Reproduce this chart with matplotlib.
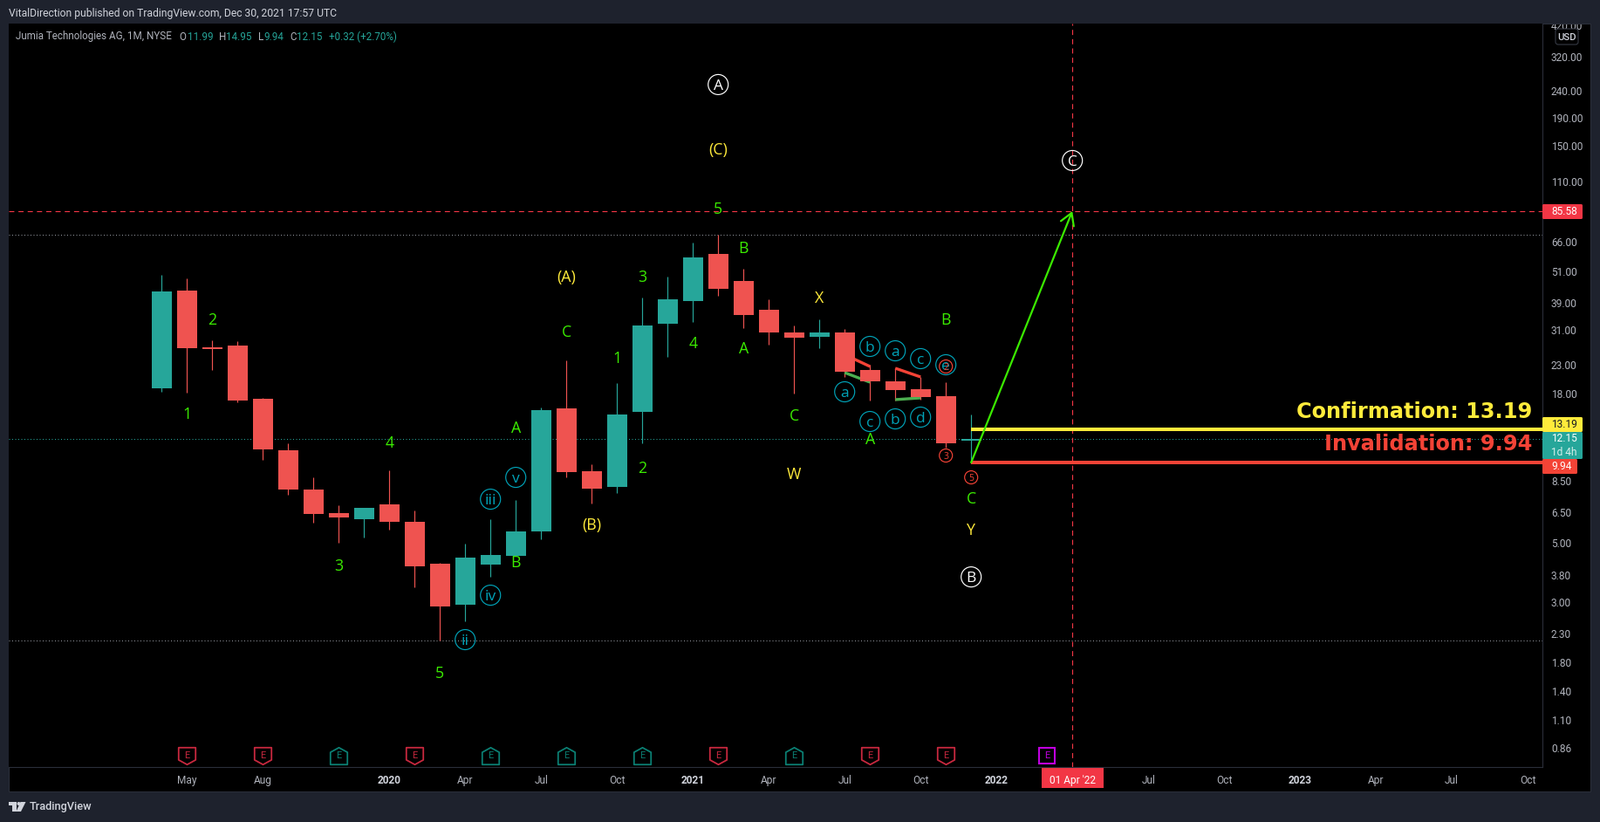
import matplotlib
matplotlib.use('Agg')
import matplotlib.pyplot as plt
import numpy as np
from matplotlib.patches import Rectangle, FancyBboxPatch, Polygon, Circle
from matplotlib.path import Path
from matplotlib.transforms import Affine2D, Bbox

# ---- data ----
opens  = [18.76,43.33,26.66,27.06,17.15,11.04,7.88,6.44,6.12,6.94,5.98,4.18,2.94,4.15,4.47,5.51,15.80,9.22,8.06,15.33,32.62,39.62,59.31,47.05,36.76,30.27,29.16,30.27,21.95,19.92,18.62,17.54,11.99]
highs  = [49.57,48.11,28.30,28.09,17.28,11.72,8.75,6.89,6.74,9.29,6.59,4.21,4.96,6.12,7.21,15.92,23.83,9.79,19.62,40.82,48.84,65.36,69.91,52.24,40.21,32.14,33.86,31.19,22.96,22.28,20.68,19.77,14.95]
lows   = [18.21,18.07,21.95,16.65,10.17,7.54,5.94,5.00,5.23,5.59,3.41,2.16,2.55,3.73,4.47,5.15,8.75,7.00,7.65,11.72,24.55,33.11,41.43,31.42,27.26,17.94,26.46,20.68,16.90,16.90,17.03,11.29,9.94]
closes = [43.01,26.46,26.26,16.90,11.12,7.88,6.40,6.21,6.74,5.98,4.08,2.90,4.40,4.50,5.51,15.56,9.16,7.94,14.99,32.14,40.21,57.57,43.99,35.15,30.27,28.94,30.27,21.62,19.92,18.48,17.41,11.72,12.15]

price_ticks = [420,320,240,190,150,110,66,51,39,31,23,18,8.5,6.5,5,3.8,3,2.3,1.8,1.4,1.1,0.86]
time_ticks  = [1,4,9,12,15,18,21,24,27,30,33,36,39,42,45,48,51,54]
time_labels = ['May','Aug','2020','Apr','Jul','Oct','2021','Apr','Jul','Oct','2022',"01 Apr '22",'Jul','Oct','2023','Apr','Jul','Oct']
year_labels = ['2020','2021','2022','2023']

green_waves  = [('1',1,14.99),('2',2,33.61),('4',9,11.72),('3',7,4.08),('5',11,1.63),('B',14,4.21),('A',14,13.30),
                ('C',16,30.27),('1',18,24.19),('2',19,9.43),('3',19,48.47),('4',21,27.47),('B',23,62.03),('A',23,26.26),
                ('C',25,14.77),('5',22,86.83),('B',31,33.61),('A',28,12.07),('C',32,7.26)]
yellow_waves = [('(A)',16,48.47),('(B)',17,5.80),('(C)',22,144),('W',25,8.95),('X',26,40.51),('Y',32,5.55)]
white_waves  = [('A',22,253),('C',36,132),('B',32,3.73)]
teal_waves   = [('v',14,8.75),('iii',13,7.26),('iv',13,3.19),('ii',12,2.18),('a',27,18.21),('b',28,26.86),('c',28,14.12),
                ('a',29,25.87),('b',29,14.44),('c',30,24.19),('d',30,14.66),('e',31,22.96)]
red_waves    = [('2',31,22.62),('3',31,10.55),('5',32,8.75)]

red_trends   = [((27,28),(25.04,22.62)),((29,30),(22.28,20.68))]
green_trends = [((27,28),(21.46,19.77)),((29,30),(17.03,17.28))]

earn_x      = [1,4,7,10,13,16,19,22,25,28,31]
earn_kind   = ['r','r','g','r','g','g','g','r','g','r','r']
future_earn = 35

last_close, confirm, invalid, target = 12.15, 13.19, 9.94, 85.58
ath, atl = 69.89, 2.16
cross_x, last_x = 36, 32

# ---- style ----
W, H = 1834, 942
BG, GRID = '#1e222d', '#2a2e39'
UP, DOWN = '#26a69a', '#ef5350'
WGREEN, WYELLOW, WTEAL, WRED = '#3bec00', '#ffeb3b', '#00a3b8', '#f44336'
FONT = 'Roboto'
plt.rcParams['font.family'] = FONT

fig = plt.figure(figsize=(W/100, H/100), dpi=100, facecolor=BG)
px = Affine2D().scale(1/W, -1/H).translate(0, 1) + fig.transFigure

fig.add_artist(Rectangle((9.5, 27), 1823-9.5, 907-27, transform=px, fc='black', ec=GRID, lw=0.8, zorder=-1))

ax = fig.add_axes([9.5/W, 1-879/H, (1768-9.5)/W, (879-27)/H], facecolor='black')
ax.set_yscale('log')
ax.set_xlim(-6.06, 54.58)
ax.set_ylim(0.7321, 426.6)
for s in ('top', 'left'):
    ax.spines[s].set_visible(False)
for s in ('right', 'bottom'):
    ax.spines[s].set_color(GRID)
    ax.spines[s].set_linewidth(0.8)

# price axis
ax.yaxis.tick_right()
ax.set_yticks(price_ticks)
ax.set_yticks([], minor=True)
ax.set_yticklabels([f'{v:.2f}' for v in price_ticks])
ax.tick_params(axis='y', which='both', length=0, pad=7.2, labelsize=8.6, labelcolor='#b2b5be')
clip = Bbox([[0, 0], [W, H - 28]])
for lab in ax.get_yticklabels():
    lab.set_clip_box(clip)
    lab.set_clip_on(True)

# time axis
ax.set_xticks(time_ticks)
ax.set_xticklabels(time_labels)
ax.tick_params(axis='x', length=0, pad=6.5, labelsize=8.6, labelcolor='#b2b5be')
for lab in ax.get_xticklabels():
    if lab.get_text() in year_labels:
        lab.set_color('#d1d4dc')
        lab.set_fontweight('bold')
    elif 'Apr \'' in lab.get_text():
        lab.set_color('white')

# reference lines
ax.axhline(ath, color='#9598a1', lw=0.72, ls=(0, (1, 2.5)), zorder=1)
ax.axhline(atl, color='#9598a1', lw=0.72, ls=(0, (1, 2.5)), zorder=1)
ax.axhline(last_close, color=UP, lw=0.72, ls=(0, (1, 2.5)), zorder=1)
ax.axhline(target, color='#f23645', lw=0.85, ls=(0, (5, 4)), zorder=1)
ax.axvline(cross_x, color='#f23645', lw=0.85, ls=(0, (5, 4)), zorder=1)

# candles
idx = np.arange(len(opens))
o, h, l, c = map(np.array, (opens, highs, lows, closes))
cols = [UP if a >= b else DOWN for a, b in zip(c, o)]
ax.vlines(idx, l, h, colors=cols, lw=0.85, zorder=2)
ax.bar(idx, np.abs(c - o), bottom=np.minimum(o, c), width=23/29, color=cols, lw=0, zorder=3)

# trend segments
for xs, ys in red_trends:
    ax.plot(xs, ys, color=WRED, lw=2.4, zorder=2.5, solid_capstyle='butt')
for xs, ys in green_trends:
    ax.plot(xs, ys, color='#4caf50', lw=2.4, zorder=2.5, solid_capstyle='butt')

# confirmation / invalidation
xend = ax.get_xlim()[1]
ax.plot([last_x, xend], [confirm, confirm], color=WYELLOW, lw=2.9, solid_capstyle='butt', zorder=4)
ax.plot([last_x, xend], [invalid, invalid], color=WRED, lw=2.9, solid_capstyle='butt', zorder=4)
ax.annotate('', xy=(cross_x, target), xytext=(last_x, invalid),
            arrowprops=dict(arrowstyle='->,head_length=0.6,head_width=0.36', color=WGREEN, lw=1.6,
                            shrinkA=0, shrinkB=0, mutation_scale=16), zorder=5)
ax.text(1756, 472, 'Confirmation: 13.19', transform=px, family='DejaVu Sans', weight='bold', fontsize=17.25,
        color=WYELLOW, ha='right', va='center', zorder=6)
ax.text(1756, 509.5, 'Invalidation: 9.94', transform=px, family='DejaVu Sans', weight='bold', fontsize=17.25,
        color=WRED, ha='right', va='center', zorder=6)

# wave labels
for waves, col in ((green_waves, WGREEN), (yellow_waves, WYELLOW)):
    for t, x, y in waves:
        ax.text(x, y, t, color=col, fontsize=12.8, ha='center', va='center', zorder=7, family='Open Sans')
def circled(waves, col, dia, fs):
    s = (dia * 0.72) ** 2
    for t, x, y in waves:
        ax.scatter([x], [y], s=s, facecolors='none', edgecolors=col, linewidths=0.85, zorder=7)
        ax.text(x, y, t, color=col, fontsize=fs, ha='center', va='center_baseline', zorder=7, family='Open Sans')
circled(teal_waves, WTEAL, 23, 12.5)
circled(white_waves, '#ffffff', 23, 12.5)
circled(red_waves, WRED, 15, 7.5)

# earnings markers
down_m = Path([(-1, 1), (1, 1), (1, -.45), (0, -1), (-1, -.45), (-1, 1)], closed=True)
up_m = Path([(-1, -1), (1, -1), (1, .45), (0, 1), (-1, .45), (-1, -1)], closed=True)
tx = ax.get_xaxis_transform()
ey = (879 - 866) / (879 - 27)
for x, k in zip(earn_x, earn_kind):
    col = '#c8283f' if k == 'r' else '#0b7f73'
    ax.plot([x], [ey], marker=down_m if k == 'r' else up_m, ms=14, mfc='black', mec=col, mew=1.3, ls='none',
            transform=tx, zorder=8)
    ax.text(x, ey, 'E', transform=tx, color=col, fontsize=8, ha='center', va='center', zorder=9)
ax.plot([future_earn], [ey], marker='s', ms=13, mfc='black', mec='#c000e0', mew=1.5, ls='none', transform=tx, zorder=8)
ax.text(future_earn, ey, 'E', transform=tx, color='#c000e0', fontsize=8, ha='center', va='center', zorder=9)

# price tags
def tag(x0, y0, x1, y1, col):
    ax.add_patch(FancyBboxPatch((x0, y0), x1-x0, y1-y0, boxstyle='round,pad=0,rounding_size=1.5', transform=px,
                                fc=col, ec='none', clip_on=False, zorder=10))
def tagtext(y, t, col, weight='normal'):
    ax.text(1778, y, t, transform=px, color=col, fontsize=8.6, va='center', ha='left', zorder=11, weight=weight)
tag(1768, 234, 1814, 251, '#f23645'); tagtext(242.5, '85.58', 'white')
tag(1768, 478, 1814, 495, WYELLOW); tagtext(487, '13.19', '#131722')
tag(1768, 495, 1814, 526, UP); tagtext(503, '12.15', 'white'); tagtext(518, '1d 4h', '#d8efec')
tag(1768, 526, 1808, 543, WRED); tagtext(535, '9.94', 'white')
ax.add_patch(Rectangle((1194, 879), 71, 24, transform=px, fc='#f23645', ec='none', clip_on=False, zorder=1))

# USD button
ax.add_patch(FancyBboxPatch((1783, 33), 26, 18, boxstyle='round,pad=0,rounding_size=3', transform=px,
                            fc='black', ec='#363a45', lw=0.8, clip_on=False, zorder=10))
ax.text(1796, 42.5, 'USD', transform=px, color='#d1d4dc', fontsize=8.2, ha='center', va='center', weight='medium', zorder=11)

# header / legend text
fig.text(10, 15, 'VitalDirection published on TradingView.com, Dec 30, 2021 17:57 UTC', transform=px,
         color='#d1d4dc', fontsize=8.74, va='center')
LEG = '#b2b5be'
for x, t, col in [(18, 'Jumia Technologies AG, 1M, NYSE', LEG), (205.7, 'O', LEG), (214.5, '11.99', UP), (251, 'H', LEG),
                  (259.4, '14.95', UP), (295.8, 'L', LEG), (302.3, '9.94', UP), (332.6, 'C', LEG), (340, '12.15', UP),
                  (377, '+0.32 (+2.70%)', UP)]:
    fig.text(x, 42, t, transform=px, color=col, fontsize=8.4, va='center')

# logo
for pts in ([(10, 919), (19, 919), (19, 930), (14, 930), (14, 923), (10, 923)],
            [(23.5, 919), (29.5, 919), (24, 930), (18.5, 930)]):
    fig.add_artist(Polygon(pts, closed=True, transform=px, fc='#d1d4dc', ec='none'))
fig.add_artist(Circle((21.5, 921), 2, transform=px, fc='#d1d4dc', ec='none'))
fig.text(33.5, 924.5, 'TradingView', transform=px, color='#d1d4dc', fontsize=9.2, va='center', weight='medium')

fig.savefig('out.png', dpi=100, facecolor=BG)
